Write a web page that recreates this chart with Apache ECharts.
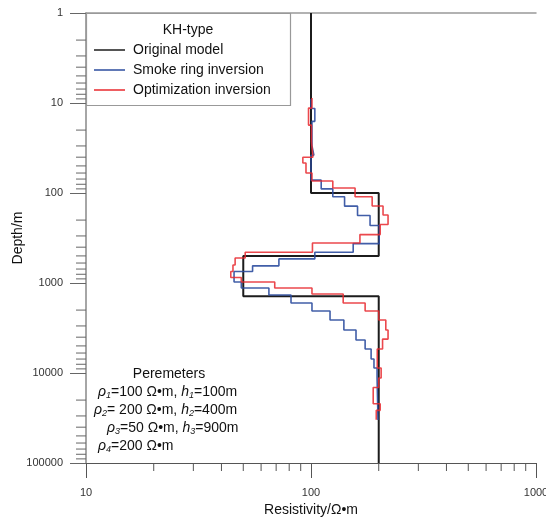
<!DOCTYPE html>
<html><head><meta charset="utf-8">
<script src="https://cdn.jsdelivr.net/npm/echarts@6/dist/echarts.min.js"></script>
<style>html,body{margin:0;padding:0;background:#fff}#c{width:546px;height:517px}</style>
</head><body><div id="c"></div>
<script>
// Original model: layer resistivities and layer boundaries (depth, m)
const originalRho = [100, 200, 50, 200];
const originalDepth = [1, 100, 500, 1400, 100000];
// Smoke ring inversion
const blueRho = [100, 104, 101, 103, 100, 111, 125, 141, 161, 183, 201, 154, 104, 72, 55, 45.5, 49, 65, 81.5, 101, 121.5, 140, 158.5, 174, 185, 190.5, 196.6, 198.5];
const blueDepth = [9, 11.5, 16, 30, 38, 72, 90, 110, 140, 178, 230, 365, 455, 540, 645, 745, 975, 1136, 1360, 1668, 2047, 2577, 3330, 4300, 5412, 6990, 8800, 11364, 33300];
// Optimization inversion
const redRho = [101, 97.5, 100.5, 102, 92, 95, 101, 125, 157, 187, 209, 220, 203, 165, 101.5, 51, 46, 45, 44, 49, 69, 101, 139, 174, 200, 215, 220, 208, 197, 205, 200, 189, 203, 195];
const redDepth = [8.8, 11.4, 17.6, 27, 40, 46.4, 60, 73.6, 88, 110, 139.5, 175.6, 224, 290, 359, 455, 528, 631, 745, 870, 975, 1136, 1325, 1668, 2047, 2577, 3330, 4200, 5412, 8800, 11364, 14500, 22000, 26000, 33000];

const seriesNames = ['Original model', 'Smoke ring inversion', 'Optimization inversion'];
const xTickLabels = ['10', '100', '1000'];
const yTickLabels = ['1', '10', '100', '1000', '10000', '100000'];
const xMinorTicks = [20, 30, 40, 50, 60, 70, 80, 90, 200, 300, 400, 500, 600, 700, 800, 900];
const yMinorTicks = [2,3,4,5,6,7,8,9, 20,30,40,50,60,70,80,90, 200,300,400,500,600,700,800,900,
  2000,3000,4000,5000,6000,7000,8000,9000, 20000,30000,40000,50000,60000,70000,80000,90000];

function steps(rho, depth) {
  const pts = [];
  for (let i = 0; i < rho.length; i++) {
    pts.push([rho[i], depth[i]]);
    pts.push([rho[i], depth[i + 1]]);
  }
  return pts;
}
function lbl(list) {
  return function (v) {
    const r = Math.round(v);
    const f = list.find(s => Number(s) === r);
    return f === undefined ? '' : f;
  };
}
const FONT = '"Liberation Sans", Arial, sans-serif';

const chart = echarts.init(document.getElementById('c'), null, {renderer: 'canvas'});
const sub = {fontSize: 9, fontStyle: 'italic', fontFamily: FONT, verticalAlign: 'bottom', lineHeight: 11, fill: '#111'};
const it = {fontSize: 14, fontStyle: 'italic', fontFamily: FONT, lineHeight: 16, fill: '#111'};
const rich = {i: it, s: sub, n: {fontSize: 14, fontFamily: FONT, lineHeight: 16, fill: '#111'}};

chart.setOption({
  animation: false,
  backgroundColor: '#fff',
  grid: {left: 86, top: 13, width: 450, height: 450, containLabel: false, outerBoundsMode: 'none'},
  xAxis: [{
    type: 'log', logBase: 10, min: 10, max: 1000, position: 'bottom',
    axisLine: {show: true, onZero: false, lineStyle: {color: '#555', width: 1}},
    axisTick: {show: true, length: 15, lineStyle: {color: '#555'}},
    axisLabel: {margin: 24, fontSize: 11, color: '#333', fontFamily: FONT, formatter: lbl(xTickLabels)},
    splitLine: {show: false},
    name: 'Resistivity/Ω•m', nameLocation: 'middle', nameGap: 40, nameMoveOverlap: false,
    nameTextStyle: {fontSize: 14, color: '#111', fontFamily: FONT}
  }, {
    type: 'log', logBase: 10, min: 10, max: 1000, position: 'top',
    axisLine: {show: true, onZero: false, lineStyle: {color: '#999', width: 1.5}},
    axisTick: {show: false}, axisLabel: {show: false}, splitLine: {show: false}
  }],
  yAxis: {
    type: 'log', logBase: 10, min: 1, max: 100000, inverse: true,
    axisLine: {show: true, onZero: false, lineStyle: {color: '#888', width: 1.5}},
    axisTick: {show: true, length: 16, lineStyle: {color: '#666'}},
    axisLabel: {margin: 23, fontSize: 11, color: '#333', fontFamily: FONT, formatter: lbl(yTickLabels)},
    splitLine: {show: false},
    name: 'Depth/m', nameLocation: 'middle', nameGap: 61, nameRotate: 90, nameMoveOverlap: false,
    nameTextStyle: {fontSize: 14, color: '#111', fontFamily: FONT}
  },
  legend: {
    data: seriesNames, orient: 'vertical', left: 94, top: 43, padding: 0,
    icon: 'rect', itemWidth: 31, itemHeight: 1.5, itemGap: 6,
    textStyle: {fontSize: 14, color: '#111', fontFamily: FONT, padding: [0, 0, 0, 3]}
  },
  graphic: [
    {type: 'rect', shape: {x: 86.5, y: 13.5, width: 204, height: 92}, style: {fill: null, stroke: '#999', lineWidth: 1.2}, z: 10},
    {type: 'text', x: 188, y: 30, style: {text: 'KH-type', fontSize: 14, fontFamily: FONT, fill: '#111', textAlign: 'center', textVerticalAlign: 'middle'}, z: 10},
    {type: 'text', x: 169, y: 374, style: {text: 'Peremeters', fontSize: 14, fontFamily: FONT, fill: '#111', textAlign: 'center', textVerticalAlign: 'middle'}, z: 10},
    {type: 'text', x: 98, y: 392, style: {text: '{i|ρ}{s|1}{n|=100 Ω•m, }{i|h}{s|1}{n|=100m}', rich: rich, textVerticalAlign: 'middle'}, z: 10},
    {type: 'text', x: 94, y: 410, style: {text: '{i|ρ}{s|2}{n|= 200 Ω•m, }{i|h}{s|2}{n|=400m}', rich: rich, textVerticalAlign: 'middle'}, z: 10},
    {type: 'text', x: 107, y: 428, style: {text: '{i|ρ}{s|3}{n|=50 Ω•m, }{i|h}{s|3}{n|=900m}', rich: rich, textVerticalAlign: 'middle'}, z: 10},
    {type: 'text', x: 98, y: 446, style: {text: '{i|ρ}{s|4}{n|=200 Ω•m}', rich: rich, textVerticalAlign: 'middle'}, z: 10}
  ],
  series: [
    {
      name: seriesNames[0], type: 'line', symbol: 'none', data: steps(originalRho, originalDepth),
      lineStyle: {color: '#1c1c1c', width: 2}, itemStyle: {color: '#1c1c1c'}, z: 3
    },
    {
      name: seriesNames[1], type: 'line', symbol: 'none', data: steps(blueRho, blueDepth),
      lineStyle: {color: '#2c4c9e', width: 1.6, opacity: 0.9}, itemStyle: {color: '#2c4c9e'}, z: 4
    },
    {
      name: seriesNames[2], type: 'line', symbol: 'none', data: steps(redRho, redDepth),
      lineStyle: {color: '#e8282e', width: 1.6, opacity: 0.85}, itemStyle: {color: '#e8282e'}, z: 5
    },
    {
      type: 'custom', coordinateSystem: 'cartesian2d', clip: false, silent: true,
      data: xMinorTicks.map(v => [v, 100000]),
      renderItem: function (params, api) {
        const p = api.coord([api.value(0), api.value(1)]);
        return {type: 'line', shape: {x1: p[0], y1: p[1], x2: p[0], y2: p[1] + 8}, style: {stroke: '#555', lineWidth: 1}};
      }
    },
    {
      type: 'custom', coordinateSystem: 'cartesian2d', clip: false, silent: true,
      data: yMinorTicks.map(v => [10, v]),
      renderItem: function (params, api) {
        const p = api.coord([api.value(0), api.value(1)]);
        return {type: 'line', shape: {x1: p[0] - 10, y1: p[1], x2: p[0], y2: p[1]}, style: {stroke: '#666', lineWidth: 1}};
      }
    }
  ]
});
</script></body></html>
